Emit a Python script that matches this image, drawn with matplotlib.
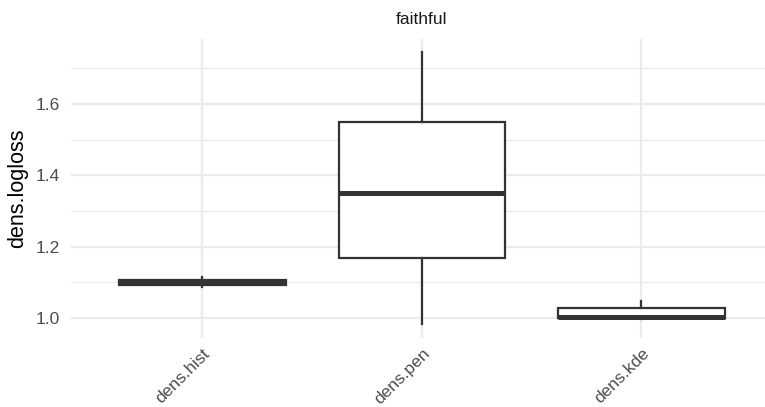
import matplotlib
matplotlib.use("Agg")
import matplotlib.pyplot as plt

categories = ["dens.hist", "dens.pen", "dens.kde"]
whislo = [1.086, 0.983, 0.998]
q1 = [1.093, 1.167, 0.999]
med = [1.100, 1.351, 1.003]
q3 = [1.106, 1.550, 1.027]
whishi = [1.114, 1.746, 1.049]
yticks = [1.0, 1.2, 1.4, 1.6]
yminor = [1.1, 1.3, 1.5, 1.7]
facet_title = "faithful"
ylabel = "dens.logloss"

plt.rcParams['font.family'] = ['Liberation Sans', 'DejaVu Sans']

W, H = 765, 407
fig = plt.figure(figsize=(W / 100, H / 100), dpi=100)
left, right, top, bottom = 70.8, 773.0, 38.5, 337.6
ax = fig.add_axes([left / W, (H - bottom) / H, (right - left) / W, (bottom - top) / H])

edge = "#333333"
stats = []
for i, c in enumerate(categories):
    stats.append(dict(label=c, whislo=whislo[i], q1=q1[i], med=med[i], q3=q3[i],
                      whishi=whishi[i], fliers=[]))
ax.bxp(stats, positions=[1, 2, 3], widths=0.76, showcaps=False, patch_artist=True,
       boxprops=dict(facecolor="white", edgecolor=edge, linewidth=1.6),
       whiskerprops=dict(color=edge, linewidth=1.6),
       medianprops=dict(color=edge, linewidth=3.6, solid_capstyle="butt"),
       zorder=3)

ax.set_xlim(0.4, 3.6)
ax.set_ylim(0.945, 1.784)
ax.set_yticks(yticks)
ax.set_yticklabels([f"{v:.1f}" for v in yticks])
ax.set_yticks(yminor, minor=True)
ax.set_xticks([1, 2, 3])
ax.set_xticklabels(categories, rotation=45, ha="right", va="top",
                   rotation_mode="anchor")

ax.grid(True, which="major", color="#EBEBEB", linewidth=1.6, zorder=0)
ax.grid(True, which="minor", axis="y", color="#EBEBEB", linewidth=0.9, zorder=0)
for s in ax.spines.values():
    s.set_visible(False)
ax.tick_params(which="both", length=0)
ax.tick_params(axis="y", labelsize=12.5, labelcolor="#4D4D4D", pad=8)
ax.tick_params(axis="x", labelsize=12.5, labelcolor="#4D4D4D", pad=6)
ax.set_axisbelow(True)

ax.set_ylabel(ylabel, fontsize=15.5, color="black", va="center")
ax.yaxis.set_label_coords(-(left - 18) / (right - left), 0.5)
fig.text(421.5 / W, 1 - 20 / H, facet_title, ha="center", va="center",
         fontsize=12.5, color="#1A1A1A")

fig.savefig("out.png", dpi=100, facecolor="white")
